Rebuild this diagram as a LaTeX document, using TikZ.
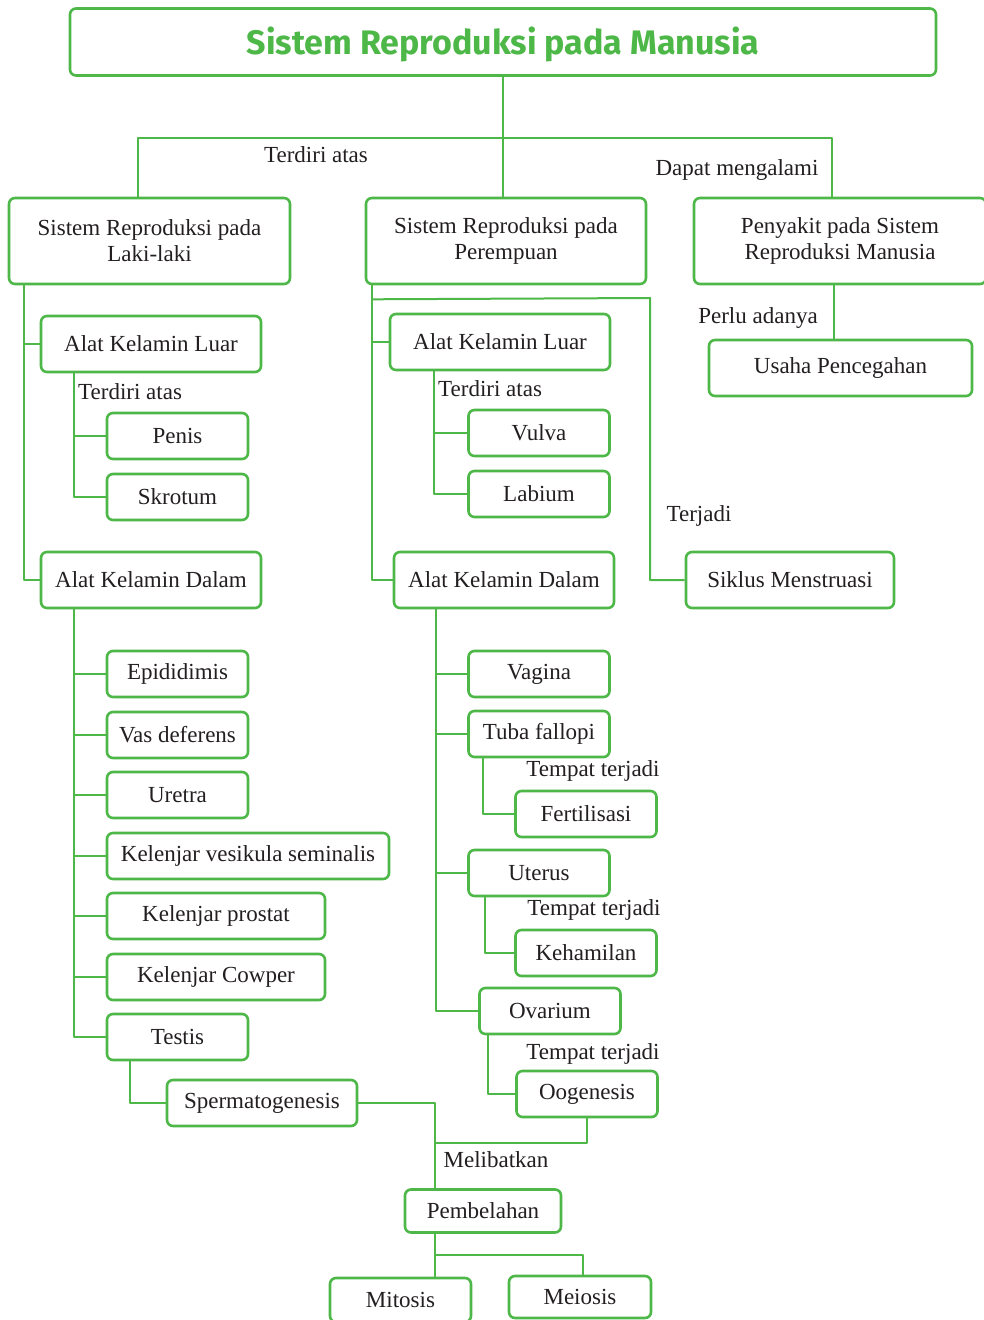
\documentclass[tikz,border=0pt]{standalone}
\usepackage{fontspec}
\setmainfont{Liberation Serif}
\newfontfamily\titlefont{Fira Sans}
\usepackage{xcolor}
\usetikzlibrary{positioning}
\definecolor{grn}{HTML}{4DB848}
\definecolor{ink}{HTML}{231F20}

\begin{document}
\begin{tikzpicture}[line cap=round,line join=round,x=1pt,y=-1pt,
  box/.style={draw=grn,line width=2.6pt,rounded corners=6pt,inner sep=0pt,align=center,
    text=ink,font=\fontsize{23}{26}\selectfont},
  sbox/.style={box,minimum width=141pt,minimum height=46pt},
  mbox/.style={box,minimum width=220pt,minimum height=56pt},
  conn/.style={draw=grn,line width=2pt,line cap=butt},
  lbl/.style={inner sep=0pt,text=ink,font=\fontsize{23}{26}\selectfont}]
\useasboundingbox[fill=white] (0,0) rectangle (984,1320);
\node[box,minimum width=866pt,minimum height=67pt,text height=29pt,text depth=4pt,text=grn,font=\titlefont\bfseries\fontsize{34}{38}\selectfont] (title) at (503,42) {Sistem Reproduksi pada Manusia};
\node[box,minimum width=281pt,minimum height=86pt] (lk) at (149.5,241) {Sistem Reproduksi pada\\Laki-laki};
\node[box,minimum width=280pt,minimum height=86pt] (pr) at (506,241) {Sistem Reproduksi pada\\Perempuan};
\node[box,minimum width=292pt,minimum height=86pt] (py) at (840,241) {Penyakit pada Sistem\\Reproduksi Manusia};
\node[box,minimum width=263pt,minimum height=56pt] (up) at (840.5,368) {Usaha Pencegahan};
\node[mbox] (luarL) at (151,344) {Alat Kelamin Luar};
\node[mbox] (dalamL) at (151,580) {Alat Kelamin Dalam};
\node[sbox] (penis) at (177.5,436) {Penis};
\node[sbox] (skrotum) at (177.5,497) {Skrotum};
\node[sbox] (epid) at (177.5,674) {Epididimis};
\node[sbox] (vas) at (177.5,735) {Vas deferens};
\node[sbox] (uretra) at (177.5,795) {Uretra};
\node[sbox,minimum width=282pt] (vesikula) at (248,856) {Kelenjar vesikula seminalis};
\node[sbox,minimum width=218pt] (prostat) at (216,916) {Kelenjar prostat};
\node[sbox,minimum width=218pt] (cowper) at (216,977) {Kelenjar Cowper};
\node[sbox] (testis) at (177.5,1037) {Testis};
\node[sbox,minimum width=190pt] (sperma) at (262,1103) {Spermatogenesis};
\node[mbox] (luarP) at (500,342) {Alat Kelamin Luar};
\node[mbox] (dalamP) at (504,580) {Alat Kelamin Dalam};
\node[sbox] (vulva) at (539,433) {Vulva};
\node[sbox] (labium) at (539,494) {Labium};
\node[sbox] (vagina) at (539,674) {Vagina};
\node[sbox] (tuba) at (539,734) {Tuba fallopi};
\node[sbox] (fert) at (586,814) {Fertilisasi};
\node[sbox] (uterus) at (539,873) {Uterus};
\node[sbox] (hamil) at (586,953) {Kehamilan};
\node[sbox] (ovarium) at (550,1011) {Ovarium};
\node[sbox] (oogen) at (587,1094) {Oogenesis};
\node[mbox,minimum width=208pt] (siklus) at (790,580) {Siklus Menstruasi};
\node[sbox,minimum width=156pt,minimum height=43pt] (pemb) at (483,1211) {Pembelahan};
\node[sbox,minimum height=44pt] (mitosis) at (400.5,1300) {Mitosis};
\node[sbox,minimum width=142pt,minimum height=42pt] (meiosis) at (580,1297) {Meiosis};
\node[lbl] (tAtas) at (316,155) {Terdiri atas};
\node[lbl] (tDapat) at (737,170) {Dapat mengalami};
\node[lbl] (tPerlu) at (758,318) {Perlu adanya};
\node[lbl,anchor=west] (tAtasL) at (78,392) {Terdiri atas};
\node[lbl,anchor=west] (tAtasP) at (438,389) {Terdiri atas};
\node[lbl] (tJadi) at (699,516) {Terjadi};
\node[lbl] (tTuba) at (593,771) {Tempat terjadi};
\node[lbl] (tUterus) at (594,910) {Tempat terjadi};
\node[lbl] (tOvar) at (593,1054) {Tempat terjadi};
\node[lbl] (tMel) at (496,1160) {Melibatkan};
\coordinate (bar) at (501,138);
\coordinate (sk) at (650,298);
\coordinate (join) at (436,1143);
\coordinate (fork) at (435,1255);
\draw[conn] (title) -- (title |- pr.north);
\draw[conn] ([xshift=-11.5pt]lk.north) |- (bar) -| ([xshift=-8pt]py.north);
\draw[conn] ([xshift=-6pt]py.south) -- ([xshift=-6pt]py.south |- up.north);
\draw[conn] ([xshift=16pt]lk.south west) |- (luarL.west);
\draw[conn] ([xshift=16pt]lk.south west) |- (dalamL.west);
\draw[conn] ([xshift=34pt]luarL.south west) |- (penis.west);
\draw[conn] ([xshift=34pt]luarL.south west) |- (skrotum.west);
\foreach \n in {epid,vas,uretra,vesikula,prostat,cowper,testis}
  \draw[conn] ([xshift=34pt]dalamL.south west) |- (\n.west);
\draw[conn] ([xshift=24pt]testis.south west) |- (sperma.west);
\draw[conn] (sperma.east) -| ([xshift=-48pt]pemb.north);
\draw[conn] (oogen.south) |- (join);
\draw[conn] ([xshift=-48pt]pemb.south) -- ([xshift=-48pt]pemb.south |- mitosis.north);
\draw[conn] (fork) -| ([xshift=3pt]meiosis.north);
\draw[conn] ([xshift=7pt]pr.south west) |- (luarP.west);
\draw[conn] ([xshift=7pt]pr.south west) |- (dalamP.west);
\draw[conn] ([xshift=7pt,yshift=-14pt]pr.south west) -- (sk) |- (siklus.west);
\draw[conn] ([xshift=45pt]luarP.south west) |- (vulva.west);
\draw[conn] ([xshift=45pt]luarP.south west) |- (labium.west);
\foreach \n in {vagina,tuba,uterus,ovarium}
  \draw[conn] ([xshift=43pt]dalamP.south west) |- (\n.west);
\draw[conn] ([xshift=16pt]tuba.south west) |- (fert.west);
\draw[conn] ([xshift=18pt]uterus.south west) |- (hamil.west);
\draw[conn] ([xshift=10pt]ovarium.south west) |- (oogen.west);
\end{tikzpicture}
\end{document}
